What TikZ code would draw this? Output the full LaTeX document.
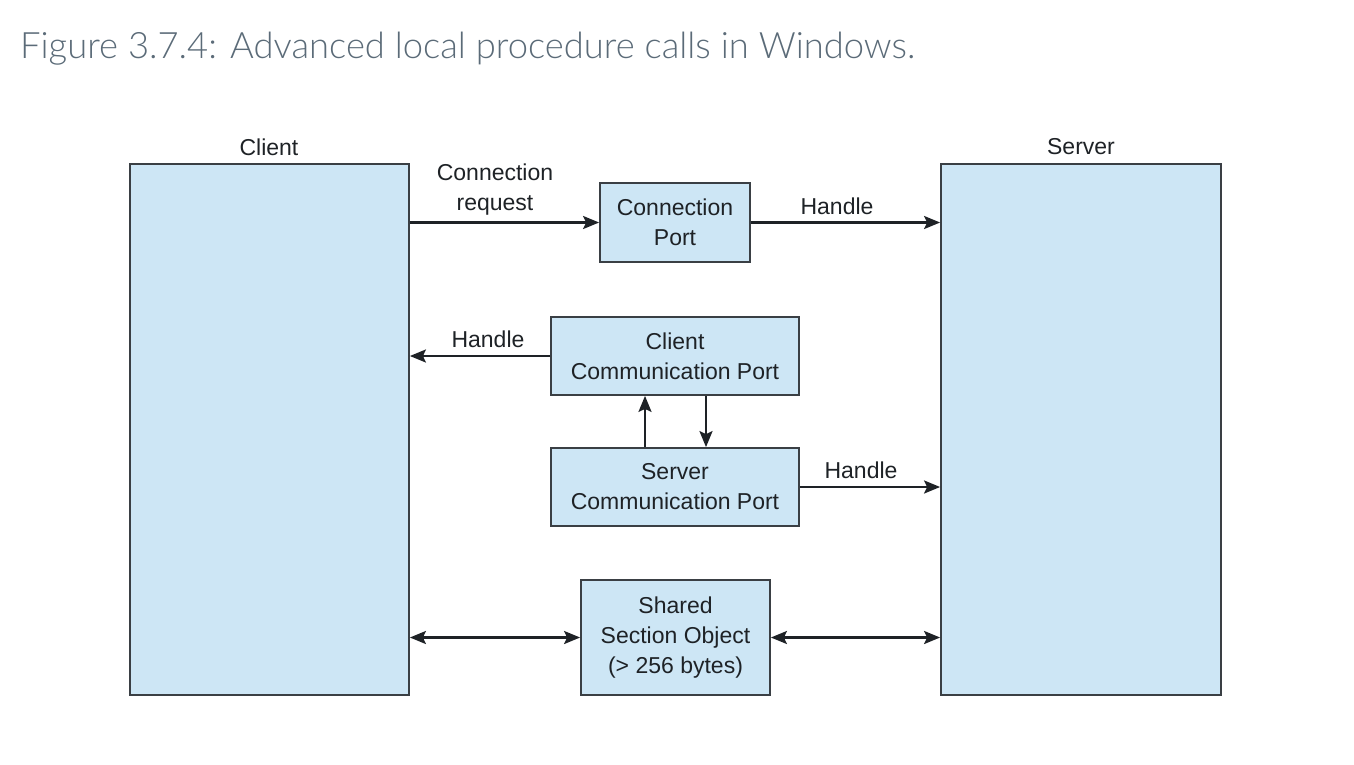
\documentclass[tikz,border=0pt]{standalone}
\usepackage{fontspec}
\setmainfont{Liberation Sans}
\IfFontExistsTF{Lato Light}{\newfontfamily\titlefont{Lato Light}}{\newfontfamily\titlefont{Lato}}
\usetikzlibrary{arrows.meta}
\definecolor{boxfill}{HTML}{CDE6F5}
\definecolor{boxline}{HTML}{3A3F44}
\definecolor{txt}{HTML}{1E2226}
\definecolor{titlecol}{HTML}{5B6B78}
\tikzset{
  bigbox/.style={draw=boxline, fill=boxfill, line width=1.8pt, inner sep=0pt},
  portbox/.style={draw=boxline, fill=boxfill, line width=1.8pt, inner sep=0pt, align=center,
    text=txt, font=\fontsize{23}{30}\selectfont},
  lbl/.style={text=txt, font=\fontsize{23}{30}\selectfont, align=center, inner sep=0pt},
  tip/.style={},
  arr/.style={line width=2.3pt, draw=txt, -{Stealth[length=16pt,width=13pt,inset=3pt]}},
  darr/.style={line width=2.3pt, draw=txt, {Stealth[length=16pt,width=13pt,inset=3pt]}-{Stealth[length=16pt,width=13pt,inset=3pt]}}
}
\begin{document}
\begin{tikzpicture}[x=1pt,y=-1pt]
\useasboundingbox (0,0) rectangle (1354,764);
\node[anchor=base west, inner sep=0pt, text=titlecol] (title) at (20,58)
  {\resizebox{895pt}{!}{\titlefont Figure 3.7.4: Advanced local procedure calls in Windows.}};

\node[bigbox, minimum width=279pt, minimum height=531pt] (client) at (269.5,429.5) {};
\node[bigbox, minimum width=280pt, minimum height=531pt] (server) at (1081,429.5) {};
\node[lbl] (clientlbl) at (269,147) {Client};
\node[lbl] (serverlbl) at (1081,147) {Server};

\node[portbox, minimum width=150pt, minimum height=79pt] (cp) at (675,222.5) {Connection\\Port};
\node[portbox, minimum width=248pt, minimum height=78pt] (ccp) at (675,356) {Client\\Communication Port};
\node[portbox, minimum width=248pt, minimum height=78pt] (scp) at (675,487) {Server\\Communication Port};
\node[portbox, minimum width=189pt, minimum height=115pt] (sso) at (675.5,637.5) {Shared\\Section Object\\(> 256 bytes)};

\draw[arr] (client.east |- cp.west) -- (cp.west);
\draw[arr] (cp.east) -- (server.west |- cp.east);
\draw[arr] (ccp.west) -- (client.east |- ccp.west);
\draw[arr] ([xshift=-30pt]scp.north) -- ([xshift=-30pt]ccp.south);
\draw[arr] ([xshift=31pt]ccp.south) -- ([xshift=31pt]scp.north);
\draw[arr] (scp.east) -- (server.west |- scp.east);
\draw[darr] (client.east |- sso.west) -- (sso.west);
\draw[darr] (sso.east) -- (server.west |- sso.east);

\node[lbl] (lconn) at (495,190) {Connection\\request};
\node[lbl] (lh1) at (837,206) {Handle};
\node[lbl] (lh2) at (488,339) {Handle};
\node[lbl] (lh3) at (861,470) {Handle};
\end{tikzpicture}
\end{document}
